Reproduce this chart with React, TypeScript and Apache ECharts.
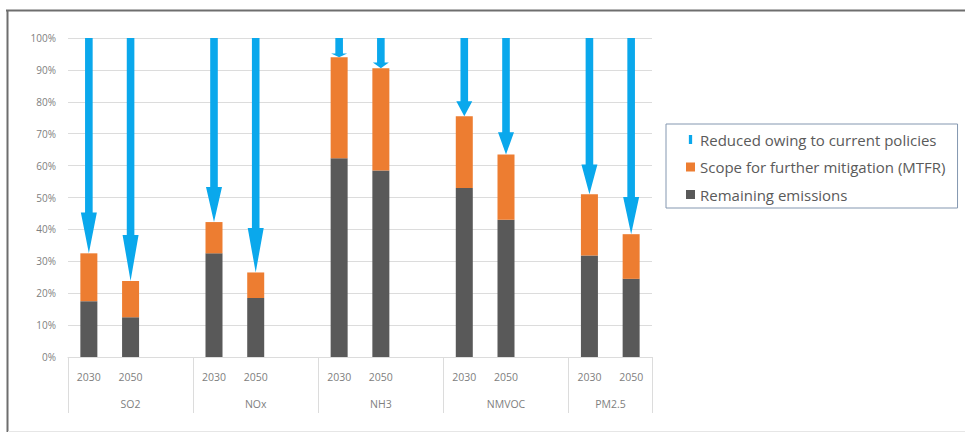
import React, { useEffect, useRef } from "react";
import * as echarts from "echarts";

const groups = ["SO2", "NOx", "NH3", "NMVOC", "PM2.5"];
const years = ["2030", "2050"];
const remaining = [17.5, 12.5, 32.5, 18.5, 62.3, 58.5, 53, 43, 31.8, 24.5];
const scope = [15, 11.3, 9.8, 8, 31.7, 32, 22.5, 20.5, 19.2, 14];
const yTicks = [0, 10, 20, 30, 40, 50, 60, 70, 80, 90, 100];

const NAME_REDUCED = "Reduced owing to current policies";
const NAME_SCOPE = "Scope for further mitigation (MTFR)";
const NAME_REMAIN = "Remaining emissions";

// Build slot layout: 2030, 2050, blank gap between groups
const slotCats: string[] = [];
const slotGroup: string[] = [];
const slotOf: number[] = []; // slot index for each data point
groups.forEach((g, gi) => {
  years.forEach((y) => {
    slotOf.push(slotCats.length);
    slotCats.push(y);
    slotGroup.push(g);
  });
  if (gi < groups.length - 1) {
    slotCats.push("");
    slotGroup.push(g);
  }
});
const groupStartSlots: number[] = [];
slotGroup.forEach((g, i) => {
  if (i === 0 || slotGroup[i - 1] !== g) groupStartSlots.push(i);
});

function toSlots(vals: number[]): (number | string)[] {
  const out: (number | string)[] = slotCats.map(() => "-");
  vals.forEach((v, i) => (out[slotOf[i]] = v));
  return out;
}

const groupAxisData = slotCats.map((_, i) => {
  const g = slotGroup[i];
  const start = slotGroup.indexOf(g);
  const count = slotGroup.filter((x) => x === g).length;
  if (count === 3 && i === start + 1) return g;
  if (count === 2 && i === start) return "{pm|" + g + "}";
  return "";
});

export default function App() {
  const ref = useRef<HTMLDivElement>(null);
  useEffect(() => {
    if (!ref.current) return;
    const chart = echarts.init(ref.current, undefined, { renderer: "svg" });
    const totals = remaining.map((r, i) => r + scope[i]);
    const arrowData = totals.map((t, i) => [slotOf[i], t]);
    const gridGrey = "#dcdcdc";
    const labelGrey = "#808080";
    chart.setOption({
      animation: false,
      textStyle: { fontFamily: "Open Sans" },
      grid: { left: 68, right: 313, top: 38, bottom: 75, containLabel: false },
      legend: {
        orient: "vertical",
        left: 666,
        top: 124,
        borderColor: "#8497b0",
        borderWidth: 1,
        padding: [8, 12, 6, 20],
        itemGap: 12.5,
        itemWidth: 9,
        itemHeight: 9,
        textStyle: { fontFamily: "Open Sans", fontSize: 15, color: "#5a5a5a" },
        data: [
          { name: NAME_REDUCED, icon: "path://M0,0h4v11h-4z", itemStyle: { color: "#0aa8ec" } },
          { name: NAME_SCOPE, icon: "rect" },
          { name: NAME_REMAIN, icon: "rect" },
        ],
      },
      xAxis: [
        {
          type: "category",
          data: slotCats,
          position: "bottom",
          axisLine: { show: true, lineStyle: { color: gridGrey } },
          axisTick: { show: false },
          axisLabel: { interval: 0, fontSize: 10.5, color: labelGrey, margin: 14 },
        },
        {
          type: "category",
          data: groupAxisData,
          position: "bottom",
          axisLine: { show: false },
          axisTick: {
            show: true,
            interval: (idx: number) => groupStartSlots.indexOf(idx) >= 0,
            length: 56,
            lineStyle: { color: gridGrey },
          },
          axisLabel: {
            interval: 0,
            fontSize: 10.5,
            color: labelGrey,
            margin: 41,
            rich: { pm: { fontSize: 10.5, color: labelGrey, padding: [0, 0, 0, 42] } },
          },
        },
      ],
      yAxis: {
        type: "value",
        min: yTicks[0],
        max: yTicks[yTicks.length - 1],
        interval: 10,
        axisLine: { show: false },
        axisTick: { show: false },
        axisLabel: { formatter: "{value}%", fontSize: 10, color: labelGrey, margin: 12 },
        splitLine: { lineStyle: { color: gridGrey, width: 1 } },
      },
      series: [
        {
          name: NAME_REMAIN,
          type: "bar",
          stack: "s",
          barWidth: 17,
          data: toSlots(remaining),
          itemStyle: { color: "#595959" },
        },
        {
          name: NAME_SCOPE,
          type: "bar",
          stack: "s",
          barWidth: 17,
          data: toSlots(scope),
          itemStyle: { color: "#ed7d31" },
        },
        {
          name: NAME_REDUCED,
          type: "custom",
          xAxisIndex: 0,
          itemStyle: { color: "#0aa8ec" },
          data: arrowData,
          encode: { x: 0, y: 1 },
          renderItem: (params: any, api: any) => {
            const top = api.coord([api.value(0), 100]);
            const tip = api.coord([api.value(0), api.value(1)]);
            const cx = top[0];
            const yT = top[1];
            const yB = tip[1];
            const L = yB - yT;
            const hl = L * 0.19;
            const sw = 3.8;
            const hw = 8;
            return {
              type: "polygon",
              shape: {
                points: [
                  [cx - sw, yT],
                  [cx + sw, yT],
                  [cx + sw, yB - hl],
                  [cx + hw, yB - hl],
                  [cx, yB],
                  [cx - hw, yB - hl],
                  [cx - sw, yB - hl],
                ],
              },
              style: { fill: "#0aa8ec" },
            };
          },
        },
      ],
      graphic: [
        { type: "line", shape: { x1: 6, y1: 10.5, x2: 965, y2: 10.5 }, style: { stroke: "#6e6e6e", lineWidth: 2 } },
        { type: "line", shape: { x1: 7.5, y1: 10, x2: 7.5, y2: 432 }, style: { stroke: "#6e6e6e", lineWidth: 2 } },
        { type: "line", shape: { x1: 8, y1: 431.5, x2: 965, y2: 431.5 }, style: { stroke: "#e6e6e6", lineWidth: 1 } },
      ],
    });
    return () => chart.dispose();
  }, []);
  return (
    <div
      ref={ref}
      style={{ position: "fixed", left: 0, top: 0, width: 965, height: 432, background: "#fff" }}
    />
  );
}
